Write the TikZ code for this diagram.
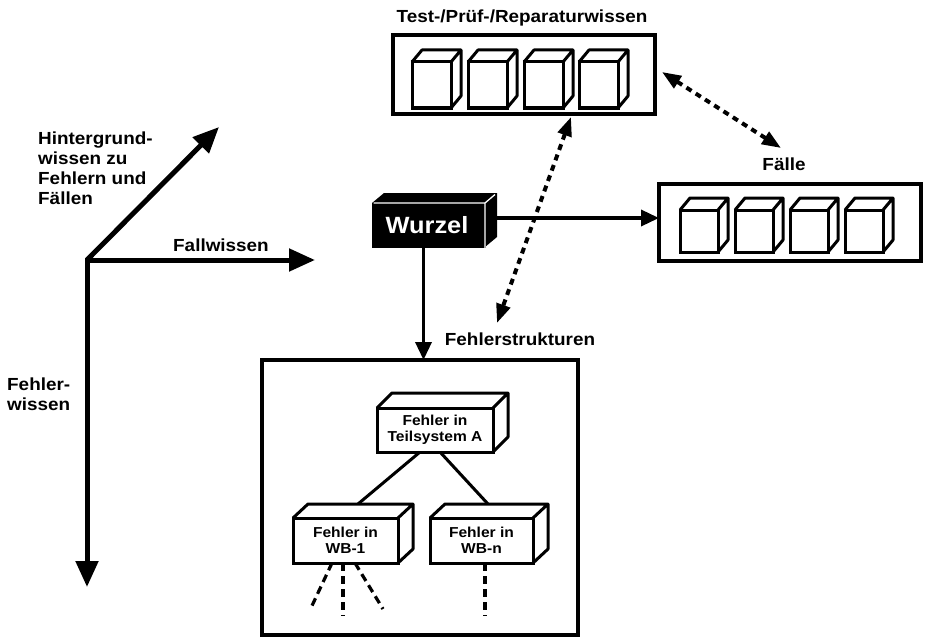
\documentclass[tikz,border=0pt]{standalone}
\usepackage{fontspec}
\setmainfont{Liberation Sans}[FakeStretch=1.08]
\usetikzlibrary{arrows.meta,calc}
\newcommand\cubeback[4][]{%
  \draw[cubeline,#1] (#2.north west) -- ++(#3,#4) -- ($(#2.north east)+(#3,#4)$) -- ($(#2.south east)+(#3,#4)$) -- (#2.south east)
    (#2.north east) -- ($(#2.north east)+(#3,#4)$);}
\begin{document}
\begin{tikzpicture}[x=1pt,y=-1pt,
  lab/.style={font=\fontsize{17.5}{20}\selectfont\bfseries, inner sep=0pt, align=left},
  small/.style={font=\fontsize{14.4}{16.5}\selectfont\bfseries, align=center},
  cubeline/.style={line width=3pt, line join=round},
  cubefront/.style={draw, line width=3pt, outer sep=0pt, inner sep=0pt, fill=white},
  bigbox/.style={draw, line width=4.5pt, outer sep=0pt, inner sep=0pt},
  axis/.style={line width=5pt, -{Triangle[width=22pt,length=26pt]}},
  arr/.style={line width=3.5pt, -{Triangle[width=16pt,length=18pt]}},
  dotarr/.style={line width=4pt, dash pattern=on 6pt off 5pt,
     {Triangle[width=14pt,length=19pt]}-{Triangle[width=14pt,length=19pt]}},
  dashln/.style={line width=3.2pt, dash pattern=on 8pt off 5pt},
  treeln/.style={line width=3pt}]
\useasboundingbox (0,0) rectangle (927,642);

% ---------- axes ----------
\coordinate (o) at (87,260);
\coordinate (ax1) at (87,587);
\coordinate (ax2) at (315,260);
\coordinate (ax3) at (219,127);
\draw[axis, line cap=rect] (o) -- (ax1);
\draw[axis, line cap=rect] (o) -- (ax2);
\draw[axis] (o) -- (ax3);
\node[lab, anchor=west] (lh) at (38,168) {Hintergrund-\\wissen zu\\Fehlern und\\Fällen};
\node[lab, anchor=base west] (lf) at (173,251) {Fallwissen};
\node[lab, anchor=west] (lw) at (7,394) {Fehler-\\wissen};

% ---------- Test box ----------
\node[bigbox, minimum width=262pt, minimum height=79pt] (tb) at (524,74.5) {};
\node[lab, anchor=base] (tbl) at (522,23) {Test-/Prüf-/Reparaturwissen};
\foreach \i/\x in {1/431.5, 2/487.5, 3/543.5, 4/598.5}{
  \node[cubefront, minimum width=39pt, minimum height=46pt] (t\i) at (\x,85) {};
  \cubeback{t\i}{10}{-12}
}

% ---------- Faelle box ----------
\node[bigbox, minimum width=262pt, minimum height=77pt] (fb) at (790,222.5) {};
\node[lab, anchor=base] (fbl) at (784,170) {Fälle};
\foreach \i/\x in {1/699, 2/754, 3/809, 4/864}{
  \node[cubefront, minimum width=38pt, minimum height=42pt] (f\i) at (\x,231) {};
  \cubeback{f\i}{10}{-12}
}

% ---------- Wurzel ----------
\node[draw, fill=black, line width=1pt, outer sep=0pt, inner sep=0pt,
      minimum width=113pt, minimum height=44pt] (w) at (428.5,225) {};
\fill[black] (w.north west) -- ++(12,-10) -- ($(w.north east)+(12,-10)$) -- ($(w.south east)+(12,-10)$)
   -- (w.south east) -- (w.north east) -- cycle;
\draw[white, line width=1.3pt] ([xshift=1.5pt]w.north west) -- (w.north east) -- ([yshift=-1.5pt]w.south east)
   (w.north east) -- ($(w.north east)+(10,-8.5)$);
\node[font=\fontsize{23.5}{26}\selectfont\bfseries, text=white, anchor=base, inner sep=0pt] (wt) at (427,233) {Wurzel};

% ---------- Fehlerstrukturen ----------
\node[bigbox, minimum width=316pt, minimum height=275pt] (fs) at (420,497.5) {};
\node[lab, anchor=base] (fsl) at (520,345) {Fehlerstrukturen};

\node[cubefront, small, minimum width=116pt, minimum height=44pt] (p) at (435,430) {Fehler in\\Teilsystem A};
\cubeback{p}{15}{-15}
\node[cubefront, small, minimum width=105pt, minimum height=45pt] (c1) at (345.5,540.5) {Fehler in\\WB-1};
\cubeback{c1}{15}{-14}
\node[cubefront, small, minimum width=103pt, minimum height=45pt] (c2) at (481.5,540.5) {Fehler in\\WB-n};
\cubeback{c2}{15}{-14}

\draw[treeln] ([xshift=-15pt]p.south) -- ($(c1.north)+(12.5,-14)$);
\draw[treeln] ([xshift=5pt]p.south) -- ($(c2.north)+(6.5,-14)$);

\coordinate (e1) at (310,610);
\coordinate (e2) at (343,616);
\coordinate (e3) at (383,609);
\coordinate (e4) at (485,616);
\draw[dashln] ([xshift=-13.5pt]c1.south) -- (e1);
\draw[dashln] ([xshift=-2.5pt]c1.south) -- (e2);
\draw[dashln] ([xshift=9.5pt]c1.south) -- (e3);
\draw[dashln] ([xshift=3.5pt]c2.south) -- (e4);

% ---------- connectors ----------
\coordinate (wr) at (497,218);
\draw[arr] (wr) -- (fb.west |- wr);
\draw[arr] ([xshift=-5pt]w.south) -- ([xshift=-5pt]w.south |- fs.north);

\coordinate (d1a) at (571,117);
\coordinate (d1b) at (497,323);
\draw[dotarr] (d1a) -- (d1b);
\coordinate (d2a) at (662,72);
\coordinate (d2b) at (781,148);
\draw[dotarr] (d2a) -- (d2b);
\end{tikzpicture}
\end{document}
